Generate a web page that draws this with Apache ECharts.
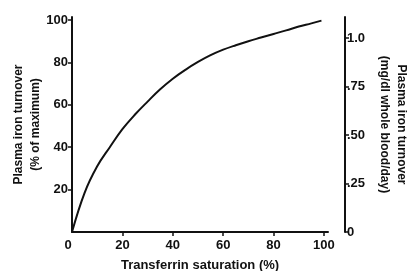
<!DOCTYPE html>
<html>
<head>
<meta charset="utf-8">
<script src="https://cdn.jsdelivr.net/npm/echarts@6/dist/echarts.min.js"></script>
<style>
  html, body { margin: 0; padding: 0; background: #fff; }
  #chart { width: 407px; height: 271px; }
</style>
</head>
<body>
<div id="chart"></div>
<script>
// transferrin saturation (%) vs plasma iron turnover (% of max)
const saturation = [0, 5, 10, 15, 20, 25, 30, 35, 40, 45, 50, 55, 60, 65, 70, 75, 80, 85, 90, 95, 99];
const turnover = [0, 18.5, 31, 40, 48.5, 55.4, 61.5, 67.3, 72.3, 76.5, 80.2, 83.4, 86, 88.1, 90, 91.7, 93.4, 95.1, 96.9, 98.4, 99.7];

const xTicks = [0, 20, 40, 60, 80, 100];
const leftTicks = [20, 40, 60, 80, 100];
const rightTicks = [0, 0.25, 0.5, 0.75, 1.0];
const rightTickLabels = ['0', '.25', '.50', '.75', '1.0'];

const ink = '#111';
const font = 'Liberation Sans';
const tickFont = { color: ink, fontFamily: font, fontWeight: 'bold', fontSize: 13 };

const chart = echarts.init(document.getElementById('chart'));

const option = {
  animation: false,
  grid: { left: 72, right: 79, top: 17, bottom: 39, outerBoundsMode: 'none' },
  xAxis: {
    type: 'value',
    min: 0,
    max: 101.6,
    name: 'Transferrin saturation (%)',
    nameLocation: 'middle',
    nameGap: 27,
    nameMoveOverlap: false,
    nameTextStyle: { color: ink, fontFamily: font, fontWeight: 'bold', fontSize: 13 },
    axisLine: { lineStyle: { color: ink, width: 2 } },
    axisTick: { customValues: xTicks.slice(1), length: 4, lineStyle: { color: ink, width: 1.5 } },
    axisLabel: Object.assign({
      customValues: xTicks,
      margin: 7,
      formatter: v => v === 0 ? '{z|0}' : String(v),
      rich: { z: Object.assign({ padding: [0, 8, 0, 0] }, tickFont) }
    }, tickFont),
    splitLine: { show: false }
  },
  yAxis: [
    {
      type: 'value',
      position: 'left',
      min: 0,
      max: 101.4,
      name: 'Plasma iron turnover\n(% of maximum)',
      nameLocation: 'middle',
      nameRotate: 90,
      nameGap: 28,
      nameMoveOverlap: false,
      nameTextStyle: { color: ink, fontFamily: font, fontWeight: 'bold', fontSize: 12, lineHeight: 17 },
      axisLine: { show: true, lineStyle: { color: ink, width: 2 } },
      axisTick: { show: true, customValues: leftTicks, length: 4, lineStyle: { color: ink, width: 1.5 } },
      axisLabel: Object.assign({ customValues: leftTicks, margin: 4 }, tickFont),
      splitLine: { show: false }
    },
    {
      type: 'value',
      position: 'right',
      offset: 17,
      min: 0,
      max: 1.108,
      name: 'Plasma iron turnover\n(mg/dl whole blood/day)',
      nameLocation: 'middle',
      nameRotate: -90,
      nameGap: 31,
      nameMoveOverlap: false,
      nameTextStyle: { color: ink, fontFamily: font, fontWeight: 'bold', fontSize: 12, lineHeight: 17 },
      axisLine: { show: true, lineStyle: { color: ink, width: 2 } },
      axisTick: { show: true, customValues: rightTicks, length: 4, lineStyle: { color: ink, width: 1.5 } },
      axisLabel: Object.assign({
        customValues: rightTicks,
        margin: 2,
        formatter: v => rightTickLabels[rightTicks.indexOf(v)]
      }, tickFont),
      splitLine: { show: false }
    }
  ],
  series: [
    {
      type: 'line',
      yAxisIndex: 0,
      data: saturation.map((s, i) => [s, turnover[i]]),
      smooth: 0.4,
      showSymbol: false,
      lineStyle: { color: ink, width: 2 }
    }
  ]
};

chart.setOption(option);
</script>
</body>
</html>
